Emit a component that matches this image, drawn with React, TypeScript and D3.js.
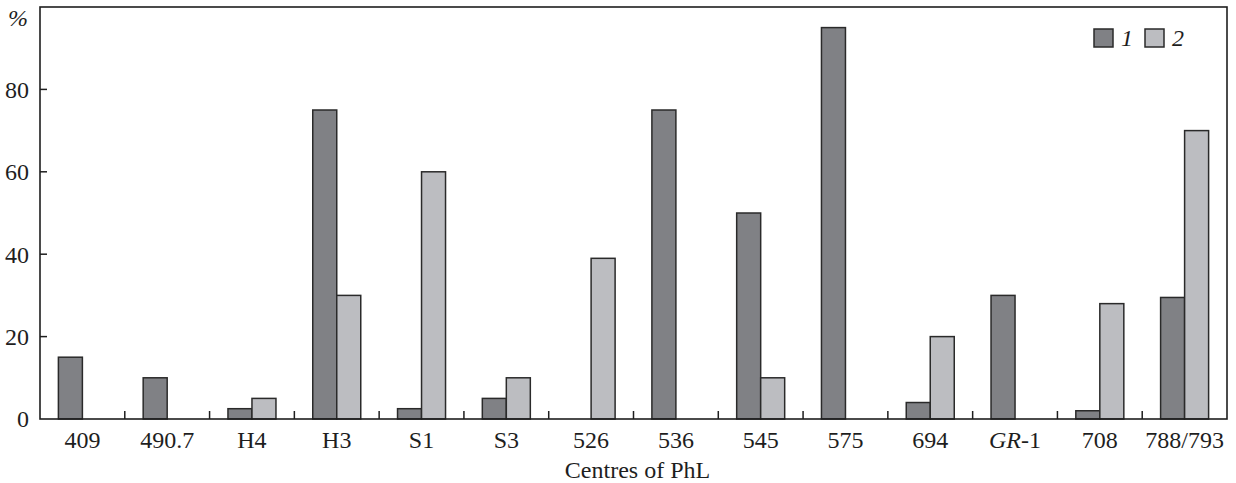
import React from 'react'
import * as d3 from 'd3'

const categories = ['409', '490.7', 'H4', 'H3', 'S1', 'S3', '526', '536', '545', '575', '694', 'GR-1', '708', '788/793']
const series1 = [15, 10, 2.5, 75, 2.5, 5, 0, 75, 50, 95, 4, 30, 2, 29.5]
const series2 = [0, 0, 5, 30, 60, 10, 39, 0, 10, 0, 20, 0, 28, 70]
const seriesNames = ['1', '2']
const yTicks = [0, 20, 40, 60, 80]

const W = 1236
const H = 483
const margin = { left: 40, right: 9, top: 7, bottom: 64 }
const FONT = '"Liberation Serif", "DejaVu Serif", serif'
const colors = ['#808185', '#bcbdc1']

export default function App() {
  const x0 = d3
    .scaleBand<string>()
    .domain(categories)
    .range([margin.left, W - margin.right])
    .padding(0)
  const barW = 24
  const x1 = d3
    .scaleBand<string>()
    .domain(seriesNames)
    .range([x0.bandwidth() / 2 - barW, x0.bandwidth() / 2 + barW])
  const y = d3
    .scaleLinear()
    .domain([0, 100])
    .range([H - margin.bottom, margin.top])

  const values = [series1, series2]
  const plotL = margin.left
  const plotR = W - margin.right
  const plotT = margin.top
  const plotB = y(0)

  const renderLabel = (c: string) => {
    if (c === 'GR-1') {
      return (
        <>
          <tspan fontStyle="italic">GR</tspan>
          <tspan>-1</tspan>
        </>
      )
    }
    return c
  }

  return (
    <svg
      width={W}
      height={H}
      style={{ position: 'absolute', left: 0, top: 0, background: '#fff' }}
      fontFamily={FONT}
    >
      {/* bars */}
      {categories.map((c, i) =>
        seriesNames.map((s, j) => {
          const v = values[j][i]
          if (!v) return null
          return (
            <rect
              key={c + s}
              x={(x0(c) ?? 0) + (x1(s) ?? 0)}
              y={y(v)}
              width={x1.bandwidth()}
              height={y(0) - y(v)}
              fill={colors[j]}
              stroke="#2a2a2a"
              strokeWidth={1.5}
            />
          )
        }),
      )}

      {/* frame */}
      <rect
        x={plotL}
        y={plotT}
        width={plotR - plotL}
        height={plotB - plotT}
        fill="none"
        stroke="#1e1e1e"
        strokeWidth={1.6}
      />

      {/* y ticks */}
      {yTicks.map((t) => (
        <g key={t}>
          {t > 0 && <line x1={plotL} x2={plotL + 7} y1={y(t)} y2={y(t)} stroke="#1e1e1e" strokeWidth={1.5} />}
          <text x={29} y={y(t)} dy="0.35em" textAnchor="end" fontSize={24} fill="#1e1e1e">
            {t}
          </text>
        </g>
      ))}
      <text x={18} y={y(100) + 19} textAnchor="middle" fontSize={24} fontStyle="italic" fill="#1e1e1e">
        %
      </text>

      {/* x ticks between categories */}
      {categories.slice(1).map((c) => (
        <line
          key={c}
          x1={x0(c)}
          x2={x0(c)}
          y1={plotB}
          y2={plotB - 8}
          stroke="#1e1e1e"
          strokeWidth={1.5}
        />
      ))}
      {categories.map((c) => (
        <text
          key={c}
          x={(x0(c) ?? 0) + x0.bandwidth() / 2}
          y={plotB + 29}
          textAnchor="middle"
          fontSize={24}
          fill="#1e1e1e"
        >
          {renderLabel(c)}
        </text>
      ))}
      <text x={(plotL + plotR) / 2 + 4} y={H - 5} textAnchor="middle" fontSize={24} fill="#1e1e1e">
        Centres of PhL
      </text>

      {/* legend */}
      {seriesNames.map((s, j) => (
        <g key={s} transform={`translate(${1094 + j * 51}, 29)`}>
          <rect width={19} height={18} fill={colors[j]} stroke="#2a2a2a" strokeWidth={1.5} />
          <text x={27} y={17} fontSize={24} fontStyle="italic" fill="#1e1e1e">
            {s}
          </text>
        </g>
      ))}
    </svg>
  )
}
